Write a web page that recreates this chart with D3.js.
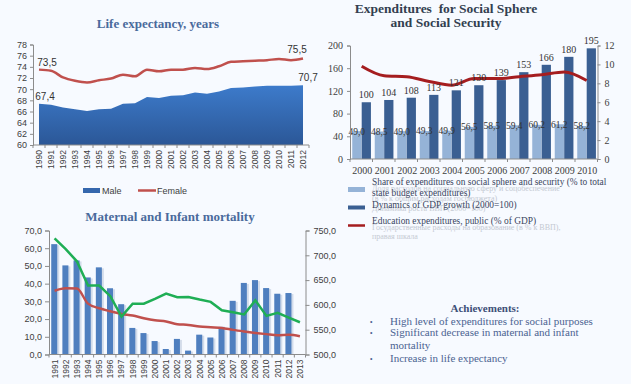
<!DOCTYPE html>
<html>
<head>
<meta charset="utf-8">
<script src="https://cdn.jsdelivr.net/npm/d3@7"></script>
<style>
body { margin: 0; background: #f7faff; }
svg { display: block; }
.axis path, .axis line { stroke: #8c8c8c; }
</style>
</head>
<body>
<svg width="631" height="384"></svg>
<script>
// ---- data ----
var lifeYears = ['1990','1991','1992','1993','1994','1995','1996','1997','1998','1999','2000','2001',
                 '2002','2003','2004','2005','2006','2007','2008','2009','2010','2011','2012'];
var maleLife = [67.4, 67.2, 66.7, 66.4, 66.1, 66.4, 66.5, 67.4, 67.5, 68.6, 68.4, 68.8,
                68.9, 69.4, 69.2, 69.6, 70.2, 70.3, 70.5, 70.6, 70.6, 70.6, 70.7];
var femaleLife = [73.5, 73.3, 72.1, 71.5, 71.2, 71.6, 71.9, 72.6, 72.3, 73.5, 73.2, 73.5,
                  73.5, 73.8, 73.6, 74.1, 74.9, 75.0, 75.1, 75.2, 75.4, 75.2, 75.5];
var lifeTicks = [60, 62, 64, 66, 68, 70, 72, 74, 76, 78];

var expYears = ['2000','2001','2002','2003','2004','2005','2006','2007','2008','2009','2010'];
var shareSocial = [49.0, 48.5, 49.0, 49.3, 49.9, 56.5, 58.5, 59.4, 60.2, 61.2, 58.2];
var gdpGrowth = [100, 104, 108, 113, 121, 130, 139, 153, 166, 180, 195];
var eduExp = [9.8, 8.8, 8.7, 8.2, 7.8, 8.5, 8.5, 8.7, 8.9, 9.2, 8.3];
var expLeftTicks = [0, 40, 80, 120, 160, 200];
var expRightTicks = [0, 2, 4, 6, 8, 10, 12];

var mortYears = ['1991','1992','1993','1994','1995','1996','1997','1998','1999','2000','2001','2002',
                 '2003','2004','2005','2006','2007','2008','2009','2010','2011','2012','2013'];
var mortBars = [62.3, 50.3, 53.1, 43.5, 49.2, 37.4, 28.4, 15.0, 12.1, 7.6, 3.1, 8.8,
                2.2, 11.2, 9.6, 15.6, 30.3, 40.4, 42.0, 37.5, 34.3, 34.7, null];
var mortGreen = [65.6, 59.5, 52.6, 38.9, 38.9, 32.9, 21.4, 28.7, 28.7, 31.4, 34.4, 32.3,
                 32.5, 31.0, 29.7, 25.0, 23.8, 22.6, 30.6, 21.8, 23.5, 20.8, 18.2];
var mortRed = [36.0, 37.4, 37.2, 28.7, 26.1, 24.4, 22.9, 22.0, 20.5, 19.3, 18.6, 17.1,
               16.7, 15.8, 15.4, 15.0, 13.9, 13.0, 12.2, 11.5, 10.9, 11.1, 10.3];
var mortLeftTicks = [0, 10, 20, 30, 40, 50, 60, 70];
var mortRightTicks = [500, 550, 600, 650, 700, 750];

var achievements = ['High level of expenditures for social purposes',
                    'Significant decrease in maternal and infant',
                    'mortality',
                    'Increase in life expectancy'];

var serif = '"Liberation Serif", "DejaVu Serif", serif';
var sans = '"Liberation Sans", Arial, sans-serif';

var svg = d3.select('svg');

var comma = (v) => d3.format('.1f')(v).replace('.', ',');

// band axis with ticks between categories, labels rotated or flat
var bandAxis = (g, scale, y, rotate, font, size) => {
    var r = scale.range();
    g.append('line')
        .attr('x1', r[0]).attr('x2', r[1])
        .attr('y1', y).attr('y2', y)
        .attr('stroke', '#8c8c8c');
    var edges = scale.domain().map((d) => scale(d)).concat([r[1]]);
    g.selectAll('.edge')
        .data(edges)
        .enter()
        .append('line')
        .attr('x1', (d) => d).attr('x2', (d) => d)
        .attr('y1', y).attr('y2', y + 3)
        .attr('stroke', '#8c8c8c');
    var lab = g.selectAll('.lab')
        .data(scale.domain())
        .enter()
        .append('text')
        .text((d) => d)
        .style('font-family', font)
        .style('font-size', size + 'px')
        .attr('fill', '#404040');
    if (rotate) {
        lab.attr('text-anchor', 'end')
            .attr('transform', (d) => 'translate(' + (scale(d) + scale.bandwidth() / 2) + ',' + (y + 5) + ') rotate(-90)')
            .attr('dy', '0.35em');
    } else {
        lab.attr('text-anchor', 'middle')
            .attr('x', (d) => scale(d) + scale.bandwidth() / 2 + 1)
            .attr('y', y + 15);
    }
}

var styleAxis = (g, font, size) => {
    g.selectAll('path, line').attr('stroke', '#8c8c8c');
    g.selectAll('text')
        .style('font-family', font)
        .style('font-size', size + 'px')
        .attr('fill', '#404040');
}

// ================= Life expectancy =================
var lifeChart = () => {
    var x = d3.scaleBand().domain(lifeYears).range([33, 309]);
    var y = d3.scaleLinear().domain([60, 78]).range([145, 44.5]);
    var cx = (i) => x(lifeYears[i]) + x.bandwidth() / 2;

    svg.append('text')
        .attr('x', 158).attr('y', 28)
        .attr('text-anchor', 'middle')
        .style('font-family', serif).style('font-size', '13px').style('font-weight', 'bold')
        .attr('fill', '#4a6a9c')
        .text('Life expectancy, years');

    var grad = svg.append('defs').append('linearGradient')
        .attr('id', 'maleGrad').attr('x1', 0).attr('y1', 0).attr('x2', 0).attr('y2', 1);
    grad.append('stop').attr('offset', '0%').attr('stop-color', '#3d7bcb');
    grad.append('stop').attr('offset', '100%').attr('stop-color', '#2b5797');

    var area = d3.area()
        .x((d, i) => cx(i))
        .y0(y(60))
        .y1((d) => y(d));
    svg.append('path')
        .datum(maleLife)
        .attr('d', area)
        .attr('fill', 'url(#maleGrad)');

    var line = d3.line()
        .x((d, i) => cx(i))
        .y((d) => y(d))
        .curve(d3.curveMonotoneX);
    svg.append('path')
        .datum(femaleLife)
        .attr('d', line)
        .attr('fill', 'none')
        .attr('stroke', '#c0504d')
        .attr('stroke-width', 2.5);

    var yAxis = svg.append('g')
        .attr('transform', 'translate(33,0)')
        .call(d3.axisLeft(y).tickValues(lifeTicks).tickSize(3).tickPadding(3).tickFormat(d3.format('d')));
    styleAxis(yAxis, sans, 9);

    bandAxis(svg.append('g'), x, 145, true, sans, 8.5);

    var last = lifeYears.length - 1;
    var labels = [[0, femaleLife[0], -4, 0], [0, maleLife[0], -4, -2],
                  [last, femaleLife[last], -5, -14], [last, maleLife[last], -4, -3]];
    svg.selectAll('.lifeLab')
        .data(labels)
        .enter()
        .append('text')
        .attr('x', (d) => cx(d[0]) + 8 + d[3])
        .attr('y', (d) => y(d[1]) + d[2])
        .attr('text-anchor', 'middle')
        .style('font-family', sans).style('font-size', '10px')
        .attr('fill', '#333')
        .text((d) => comma(d[1]));

    // legend
    svg.append('rect').attr('x', 83).attr('y', 188).attr('width', 17).attr('height', 5).attr('fill', '#3567ad');
    svg.append('text').attr('x', 102).attr('y', 193.5)
        .style('font-family', sans).style('font-size', '9px').attr('fill', '#404040').text('Male');
    svg.append('line').attr('x1', 138).attr('x2', 156).attr('y1', 190.5).attr('y2', 190.5)
        .attr('stroke', '#c0504d').attr('stroke-width', 2.5);
    svg.append('text').attr('x', 157).attr('y', 193.5)
        .style('font-family', sans).style('font-size', '9px').attr('fill', '#404040').text('Female');
}

// ================= Expenditures =================
var expChart = () => {
    var x = d3.scaleBand().domain(expYears).range([350, 597.5]);
    var yL = d3.scaleLinear().domain([0, 200]).range([159, 45.5]);
    var yR = d3.scaleLinear().domain([0, 12]).range([159, 45.5]);
    var bw = x.bandwidth();

    svg.append('text')
        .attr('x', 446).attr('y', 12.5)
        .attr('text-anchor', 'middle')
        .style('white-space', 'pre')
        .style('font-family', serif).style('font-size', '13.5px').style('font-weight', 'bold')
        .attr('fill', '#333f50')
        .text('Expenditures  for Social Sphere');
    svg.append('text')
        .attr('x', 446).attr('y', 27)
        .attr('text-anchor', 'middle')
        .style('font-family', serif).style('font-size', '13.5px').style('font-weight', 'bold')
        .attr('fill', '#333f50')
        .text('and Social Security');

    svg.selectAll('.lightBar')
        .data(shareSocial)
        .enter()
        .append('rect')
        .attr('x', (d, i) => x(expYears[i]) + bw * 0.1)
        .attr('y', (d) => yL(d))
        .attr('width', bw * 0.41)
        .attr('height', (d) => yL(0) - yL(d))
        .attr('fill', '#95b3d7');

    svg.selectAll('.darkBar')
        .data(gdpGrowth)
        .enter()
        .append('rect')
        .attr('x', (d, i) => x(expYears[i]) + bw * 0.52)
        .attr('y', (d) => yL(d))
        .attr('width', bw * 0.41)
        .attr('height', (d) => yL(0) - yL(d))
        .attr('fill', '#3a5f92');

    var line = d3.line()
        .x((d, i) => x(expYears[i]) + bw * 0.52)
        .y((d) => yR(d))
        .curve(d3.curveMonotoneX);
    svg.append('path')
        .datum(eduExp)
        .attr('d', line)
        .attr('fill', 'none')
        .attr('stroke', '#a51d1f')
        .attr('stroke-width', 3);

    svg.selectAll('.lightLab')
        .data(shareSocial)
        .enter()
        .append('text')
        .attr('x', (d, i) => x(expYears[i]) + bw * 0.3)
        .attr('y', (d) => yL(d))
        .attr('dy', '0.35em')
        .attr('text-anchor', 'middle')
        .style('font-family', serif).style('font-size', '9.5px')
        .attr('fill', '#333')
        .text((d) => comma(d));

    svg.selectAll('.darkLab')
        .data(gdpGrowth)
        .enter()
        .append('text')
        .attr('x', (d, i) => x(expYears[i]) + bw * 0.72)
        .attr('y', (d) => yL(d) - 4)
        .attr('text-anchor', 'middle')
        .style('font-family', serif).style('font-size', '10px')
        .attr('fill', '#333')
        .text((d) => d);

    var left = svg.append('g')
        .attr('transform', 'translate(' + x.range()[0] + ',0)')
        .call(d3.axisLeft(yL).tickValues(expLeftTicks).tickSize(3).tickPadding(4));
    styleAxis(left, serif, 10);
    var right = svg.append('g')
        .attr('transform', 'translate(' + x.range()[1] + ',0)')
        .call(d3.axisRight(yR).tickValues(expRightTicks).tickSize(3).tickPadding(4));
    styleAxis(right, serif, 10);

    bandAxis(svg.append('g'), x, 159, false, serif, 10);

    // legend (faint leftovers of the original labels sit under the English ones)
    var lg = svg.append('g');
    var ghost = [['Доля расходов на социальную сферу и соцобеспечение', 191],
                 ['(в % к общим расходам госбюджета)', 201],
                 ['Динамика роста ВВП (2000=100)', 211],
                 ['Государственные расходы на образование (в % к ВВП),', 230],
                 ['правая шкала', 239]];
    lg.selectAll('.ghost')
        .data(ghost)
        .enter()
        .append('text')
        .attr('x', 372).attr('y', (d) => d[1])
        .style('font-family', serif).style('font-size', '8px')
        .attr('fill', '#c4c9d2')
        .text((d) => d[0]);

    lg.append('rect').attr('x', 348).attr('y', 187).attr('width', 17).attr('height', 5).attr('fill', '#95b3d7');
    lg.append('rect').attr('x', 348).attr('y', 205.5).attr('width', 17).attr('height', 4).attr('fill', '#3a5f92');
    lg.append('line').attr('x1', 348).attr('x2', 365).attr('y1', 225.5).attr('y2', 225.5)
        .attr('stroke', '#a51d1f').attr('stroke-width', 2.5);
    var legTexts = [['Share of expenditures on social sphere and security (% to total', 185],
                    ['state budget expenditures)', 196],
                    ['Dynamics of GDP growth (2000=100)', 208],
                    ['Education expenditures, public (% of GDP)', 224]];
    lg.selectAll('.legText')
        .data(legTexts)
        .enter()
        .append('text')
        .attr('x', 372).attr('y', (d) => d[1])
        .style('font-family', serif).style('font-size', '9.4px')
        .attr('fill', '#3a4660')
        .text((d) => d[0]);
}

// ================= Maternal and infant mortality =================
var mortChart = () => {
    var x = d3.scaleBand().domain(mortYears).range([49, 305.5]);
    var yL = d3.scaleLinear().domain([0, 70]).range([354.5, 230.5]);
    var yR = d3.scaleLinear().domain([500, 750]).range([354.5, 230.5]);
    var bw = x.bandwidth();
    var cx = (i) => x(mortYears[i]) + bw / 2;

    svg.append('text')
        .attr('x', 170).attr('y', 221)
        .attr('text-anchor', 'middle')
        .style('font-family', serif).style('font-size', '13px').style('font-weight', 'bold')
        .attr('fill', '#4a6a9c')
        .text('Maternal and Infant mortality');

    var bars = mortBars.map((v, i) => ({ year: mortYears[i], v: v })).filter((d) => d.v !== null);

    svg.selectAll('.shadow')
        .data(bars)
        .enter()
        .append('rect')
        .attr('x', (d) => x(d.year) + bw * 0.2 + 2)
        .attr('y', (d) => yL(d.v) + 1)
        .attr('width', bw * 0.54)
        .attr('height', (d) => yL(0) - yL(d.v) - 1)
        .attr('fill', '#d3dcea');

    svg.selectAll('.mortBar')
        .data(bars)
        .enter()
        .append('rect')
        .attr('x', (d) => x(d.year) + bw * 0.2)
        .attr('y', (d) => yL(d.v))
        .attr('width', bw * 0.54)
        .attr('height', (d) => yL(0) - yL(d.v))
        .attr('fill', '#4f7fbf');

    var line = d3.line()
        .x((d, i) => cx(i))
        .y((d) => yL(d));
    svg.append('path')
        .datum(mortRed)
        .attr('d', line.curve(d3.curveMonotoneX))
        .attr('fill', 'none')
        .attr('stroke', '#c0504d')
        .attr('stroke-width', 2.5);
    svg.append('path')
        .datum(mortGreen)
        .attr('d', line.curve(d3.curveLinear))
        .attr('fill', 'none')
        .attr('stroke', '#1fae55')
        .attr('stroke-width', 2.5);

    var left = svg.append('g')
        .attr('transform', 'translate(' + x.range()[0] + ',0)')
        .call(d3.axisLeft(yL).tickValues(mortLeftTicks).tickSize(4).tickPadding(3).tickFormat(comma));
    styleAxis(left, sans, 9);
    var right = svg.append('g')
        .attr('transform', 'translate(' + x.range()[1] + ',0)')
        .call(d3.axisRight(yR).tickValues(mortRightTicks).tickSize(4).tickPadding(4).tickFormat(comma));
    styleAxis(right, sans, 9);

    bandAxis(svg.append('g'), x, 354.5, true, sans, 8.5);
}

// ================= Achievements =================
var achieve = () => {
    svg.append('text')
        .attr('x', 485).attr('y', 312)
        .attr('text-anchor', 'middle')
        .style('font-family', serif).style('font-size', '11px').style('font-weight', 'bold')
        .attr('fill', '#3d4f78')
        .text('Achievements:');

    var rows = [[achievements[0], 324.5, true], [achievements[1], 336, true],
                [achievements[2], 349, false], [achievements[3], 361.5, true]];
    var g = svg.selectAll('.ach')
        .data(rows)
        .enter()
        .append('g');
    g.append('text')
        .attr('x', 390).attr('y', (d) => d[1])
        .style('font-family', serif).style('font-size', '11px')
        .attr('fill', '#4b6391')
        .text((d) => d[0]);
    g.filter((d) => d[2])
        .append('text')
        .attr('x', 370).attr('y', (d) => d[1] - 1)
        .style('font-family', sans).style('font-size', '7px')
        .attr('fill', '#4b6391')
        .text('•');
}

lifeChart();
expChart();
mortChart();
achieve();
</script>
</body>
</html>
